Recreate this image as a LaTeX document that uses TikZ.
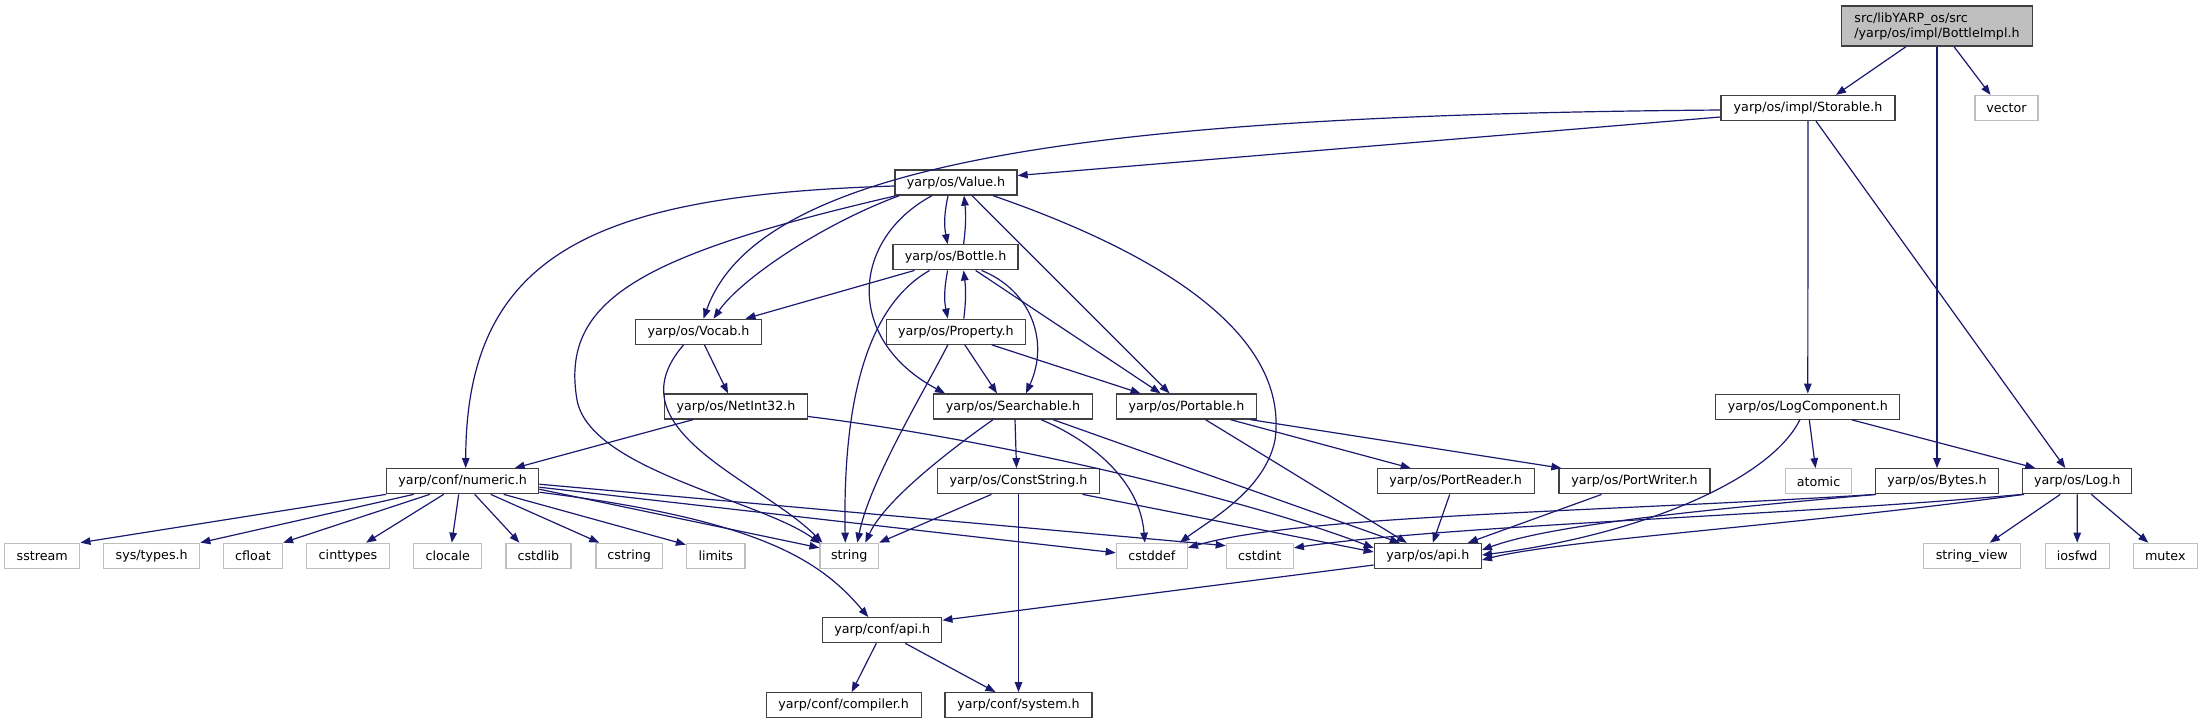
\documentclass[tikz,border=0pt]{standalone}
\usepackage{fontspec}
\setmainfont{DejaVu Sans}
\usetikzlibrary{arrows.meta,calc}
\definecolor{edgec}{HTML}{191970}
\definecolor{bordc}{HTML}{404040}
\definecolor{extc}{HTML}{BFBFBF}
\definecolor{rootc}{HTML}{BFBFBF}
\begin{document}
\begin{tikzpicture}[x=1pt,y=-1pt,
  every node/.style={font=\fontsize{12.7pt}{15pt}\selectfont, inner sep=0pt, minimum height=25pt},
  docn/.style={draw=bordc, line width=1.3pt, fill=white},
  extn/.style={draw=extc, line width=1.3pt, fill=white},
  rootn/.style={draw=bordc, line width=1.3pt, fill=rootc, align=left},
  dep/.style={draw=edgec, line width=1.2pt, -{Triangle[length=10pt,width=7.5pt]}, fill=none}
]
\useasboundingbox (0,0) rectangle (2203,724);

% nodes
\node[rootn, minimum width=191pt, minimum height=40pt] (root) at (1937,26) {src/libYARP\_os/src\\/yarp/os/impl/BottleImpl.h};
\node[docn, minimum width=174pt] (storable) at (1808,108) {yarp/os/impl/Storable.h};
\node[extn, minimum width=63pt] (vector) at (2006.5,108) {vector};
\node[docn, minimum width=122pt] (value) at (956,182.5) {yarp/os/Value.h};
\node[docn, minimum width=125pt] (bottle) at (955.6,257.3) {yarp/os/Bottle.h};
\node[docn, minimum width=139pt] (property) at (955.8,331.7) {yarp/os/Property.h};
\node[docn, minimum width=126pt] (vocab) at (698.5,331.8) {yarp/os/Vocab.h};
\node[docn, minimum width=143pt] (netint) at (736,406.5) {yarp/os/NetInt32.h};
\node[docn, minimum width=159pt] (searchable) at (1013,406.5) {yarp/os/Searchable.h};
\node[docn, minimum width=140pt] (portable) at (1186.5,406.5) {yarp/os/Portable.h};
\node[docn, minimum width=184pt] (logcomp) at (1807.8,406.7) {yarp/os/LogComponent.h};
\node[docn, minimum width=152pt] (numeric) at (462.7,481.2) {yarp/conf/numeric.h};
\node[docn, minimum width=162pt] (conststring) at (1018.5,481.2) {yarp/os/ConstString.h};
\node[docn, minimum width=157pt] (portreader) at (1455.7,481.3) {yarp/os/PortReader.h};
\node[docn, minimum width=151pt] (portwriter) at (1634.5,481.3) {yarp/os/PortWriter.h};
\node[extn, minimum width=66pt] (atomic) at (1818.5,481.3) {atomic};
\node[docn, minimum width=123pt] (bytes) at (1937,481.3) {yarp/os/Bytes.h};
\node[docn, minimum width=109pt] (log) at (2077.3,481.2) {yarp/os/Log.h};
\node[extn, minimum width=75pt] (sstream) at (42.3,555.8) {sstream};
\node[extn, minimum width=96pt] (systypes) at (151.7,555.8) {sys/types.h};
\node[extn, minimum width=59pt] (cfloat) at (253,555.8) {cfloat};
\node[extn, minimum width=83pt] (cinttypes) at (348,555.8) {cinttypes};
\node[extn, minimum width=68pt] (clocale) at (447.8,555.8) {clocale};
\node[extn, minimum width=65pt] (cstdlib) at (538.4,555.8) {cstdlib};
\node[extn, minimum width=66.5pt] (cstring) at (629.2,555.8) {cstring};
\node[extn, minimum width=58.5pt] (limits) at (715.8,555.8) {limits};
\node[extn, minimum width=58.5pt] (string) at (849.3,555.8) {string};
\node[extn, minimum width=71pt] (cstddef) at (1151.8,555.8) {cstddef};
\node[extn, minimum width=67pt] (cstdint) at (1259.8,555.8) {cstdint};
\node[docn, minimum width=107pt] (osapi) at (1427.8,556) {yarp/os/api.h};
\node[extn, minimum width=97pt] (strview) at (1971.8,555.8) {string\_view};
\node[extn, minimum width=64pt] (iosfwd) at (2077.2,555.8) {iosfwd};
\node[extn, minimum width=64pt] (mutex) at (2165.3,555.8) {mutex};
\node[docn, minimum width=119pt] (confapi) at (882.3,630.2) {yarp/conf/api.h};
\node[docn, minimum width=155pt] (compiler) at (843.7,705.2) {yarp/conf/compiler.h};
\node[docn, minimum width=147pt] (system) at (1018.5,705.2) {yarp/conf/system.h};

% root
\draw[dep] ($(root.south)+(-31,0)$) -- ($(storable.north)+(28,0)$);
\draw[dep] (root.south) -- (bytes.north);
\draw[dep] ($(root.south)+(17,0)$) -- ($(vector.north)+(-16,0)$);

% storable
\draw[dep] ($(storable.west)+(0,9)$) -- ($(value.east)+(0,-7)$);
\draw[dep] ($(storable.west)+(0,2)$) .. controls (1100,115) and (760,160) .. ($(vocab.north)+(5,0)$);
\draw[dep] (storable.south) -- (logcomp.north);
\draw[dep] ($(storable.south)+(8,0)$) -- ($(log.north)+(-12,0)$);

% value
\draw[dep] ($(value.south)+(-8,0)$) .. controls (944,215) and (944,225) .. ($(bottle.north)+(-8,0)$);
\draw[dep] ($(bottle.north)+(8,0)$) .. controls (966,225) and (966,215) .. ($(value.south)+(8,0)$);
\draw[dep] ($(value.south west)+(5,0)$) .. controls (820,225) and (740,280) .. ($(vocab.north)+(15,0)$);
\draw[dep] ($(value.west)+(0,3.5)$) .. controls (600,195) and (466,250) .. ($(numeric.north)+(3,0)$);
\draw[dep] ($(value.south west)+(2,0)$) .. controls (640,255) and (560,300) .. (577,400) .. controls (590,470) and (760,500) .. ($(string.north west)+(1,1)$);
\draw[dep] ($(value.south)+(-24,0)$) .. controls (850,240) and (845,340) .. ($(searchable.north)+(-68,0)$);
\draw[dep] ($(value.south)+(16,0)$) -- ($(portable.north)+(-17,0)$);
\draw[dep] ($(value.south)+(37,0)$) .. controls (1150,250) and (1290,330) .. (1275,440) .. controls (1265,490) and (1210,520) .. ($(cstddef.north)+(28,0)$);

% bottle
\draw[dep] ($(bottle.south west)+(22,0)$) -- ($(vocab.north)+(47,0)$);
\draw[dep] ($(bottle.south)+(-26,0)$) .. controls (860,310) and (843,420) .. ($(string.north)+(-4,0)$);
\draw[dep] ($(bottle.south)+(-8,0)$) .. controls (944,290) and (944,300) .. ($(property.north)+(-8,0)$);
\draw[dep] ($(property.north)+(8,0)$) .. controls (966,300) and (966,290) .. ($(bottle.south)+(8,0)$);
\draw[dep] ($(bottle.south)+(26,0)$) .. controls (1030,290) and (1050,340) .. ($(searchable.north)+(13,0)$);
\draw[dep] ($(bottle.south)+(20,0)$) -- ($(portable.north)+(-26,0)$);

% property
\draw[dep] ($(property.south)+(-8,0)$) .. controls (925,390) and (870,480) .. ($(string.north)+(8,0)$);
\draw[dep] ($(property.south)+(9,0)$) -- ($(searchable.north)+(-16,0)$);
\draw[dep] ($(property.south)+(36,0)$) -- ($(portable.north)+(-46,0)$);

% vocab
\draw[dep] ($(vocab.south)+(-15,0)$) .. controls (610,430) and (760,480) .. ($(string.north west)+(3,0)$);
\draw[dep] ($(vocab.south)+(6,0)$) -- ($(netint.north)+(-8,0)$);

% netint
\draw[dep] ($(netint.south)+(-43,0)$) -- ($(numeric.north)+(52,0)$);
\draw[dep] ($(netint.east)+(0,10)$) .. controls (1000,440) and (1250,500) .. ($(osapi.west)+(0,-8)$);

% searchable
\draw[dep] ($(searchable.south)+(-20,0)$) .. controls (950,450) and (885,500) .. ($(string.north)+(16,0)$);
\draw[dep] ($(searchable.south)+(2,0)$) -- ($(conststring.north)+(-2,0)$);
\draw[dep] ($(searchable.south)+(28,0)$) .. controls (1090,440) and (1140,480) .. ($(cstddef.north)+(-7,0)$);
\draw[dep] ($(searchable.south)+(40,0)$) -- ($(osapi.north)+(-28,0)$);

% portable
\draw[dep] ($(portable.south)+(19,0)$) -- ($(osapi.north)+(-21,0)$);
\draw[dep] ($(portable.south)+(44,0)$) -- ($(portreader.north)+(-45,0)$);
\draw[dep] ($(portable.south)+(64,0)$) -- ($(portwriter.north west)+(3,0)$);

% conststring
\draw[dep] ($(conststring.south)+(-27,0)$) -- (string.north east);
\draw[dep] ($(conststring.south)+(64,0)$) -- ($(osapi.west)+(0,-4)$);
\draw[dep] (conststring.south) -- (system.north);

% numeric
\draw[dep] (numeric.south west) -- (sstream.north east);
\draw[dep] ($(numeric.south)+(-49,0)$) -- (systypes.north east);
\draw[dep] ($(numeric.south)+(-33,0)$) -- (cfloat.north east);
\draw[dep] ($(numeric.south)+(-19,0)$) -- ($(cinttypes.north)+(18,0)$);
\draw[dep] ($(numeric.south)+(-4,0)$) -- ($(clocale.north)+(4,0)$);
\draw[dep] ($(numeric.south)+(12,0)$) -- ($(cstdlib.north)+(-19,0)$);
\draw[dep] ($(numeric.south)+(28,0)$) -- ($(cstring.north)+(-30,0)$);
\draw[dep] ($(numeric.south)+(41,0)$) -- ($(limits.north west)+(0,2)$);
\draw[dep] ($(numeric.east)+(0,8)$) -- ($(string.west)+(0,-8)$);
\draw[dep] ($(numeric.east)+(0,11)$) .. controls (760,520) and (820,560) .. ($(confapi.north)+(-14,0)$);
\draw[dep] ($(numeric.east)+(0,6)$) -- ($(cstddef.west)+(0,-3)$);
\draw[dep] ($(numeric.east)+(0,3)$) -- ($(cstdint.north west)+(0,3)$);

% port reader / writer
\draw[dep] ($(portreader.south)+(-6,0)$) -- ($(osapi.north)+(5,0)$);
\draw[dep] ($(portwriter.south)+(-33,0)$) -- ($(osapi.north)+(40,0)$);

% log component
\draw[dep] ($(logcomp.south)+(-8,0)$) .. controls (1770,480) and (1640,535) .. ($(osapi.east)+(0,-1)$);
\draw[dep] ($(logcomp.south)+(1.5,0)$) -- ($(atomic.north)+(-3,0)$);
\draw[dep] ($(logcomp.south)+(44,0)$) -- ($(log.north)+(-42,0)$);

% bytes
\draw[dep] (bytes.south west) .. controls (1600,512) and (1300,515) .. ($(cstddef.east)+(0,-8)$);
\draw[dep] ($(bytes.south west)+(1,0)$) .. controls (1700,510) and (1550,525) .. ($(osapi.east)+(0,-6)$);

% log
\draw[dep] (log.south west) .. controls (1800,515) and (1450,525) .. ($(cstdint.east)+(0,-8)$);
\draw[dep] ($(log.south west)+(2,0)$) .. controls (1800,525) and (1560,540) .. ($(osapi.east)+(0,4)$);
\draw[dep] ($(log.south)+(-17,0)$) -- ($(strview.north)+(18,0)$);
\draw[dep] (log.south) -- (iosfwd.north);
\draw[dep] ($(log.south)+(14,0)$) -- ($(mutex.north)+(-17,0)$);

% os api
\draw[dep] ($(osapi.west)+(0,9)$) -- ($(confapi.east)+(0,-10)$);

% conf api
\draw[dep] ($(confapi.south)+(-6,0)$) -- ($(compiler.north)+(8,0)$);
\draw[dep] ($(confapi.south)+(23,0)$) -- ($(system.north)+(-23,0)$);
\end{tikzpicture}
\end{document}
